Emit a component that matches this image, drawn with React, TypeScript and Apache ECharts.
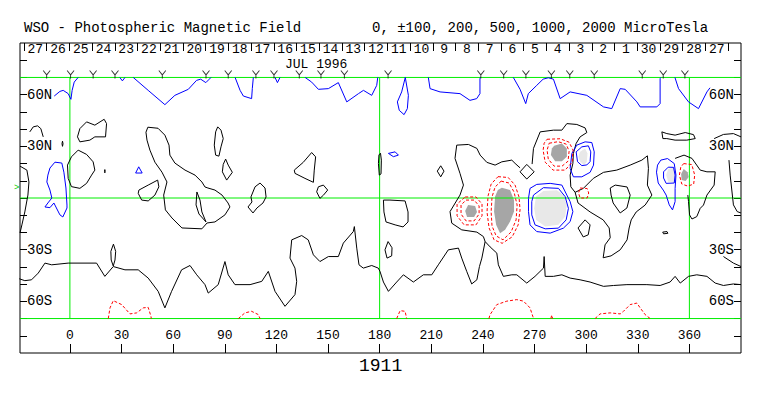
import React, { useEffect, useRef } from "react";
import * as echarts from "echarts";

const FONT = "'Liberation Mono', 'Courier New', monospace";

// ---------- axis data ----------
const lonTicks = [0, 30, 60, 90, 120, 150, 180, 210, 240, 270, 300, 330, 360];
const latTicks = [-80, -70, -60, -50, -40, -30, -20, -10, 0, 10, 20, 30, 40, 50, 60, 70, 80];
const latLabelValues = [-60, -30, 30, 60];
const latLabels = ["60S", "30S", "30N", "60N"];
const dayTickLons = [-26.7, -13.5, -0.3, 12.9, 26.1, 39.3, 52.5, 65.7, 78.9, 92.1, 105.3, 118.5, 131.7, 144.9, 158.1, 171.3, 184.5, 197.7, 210.9, 224.1, 237.3, 250.5, 263.7, 276.9, 290.1, 303.3, 316.5, 329.7, 342.9, 356.1, 369.3, 382.5];
const dayLabelLons = [-20.1, -6.9, 6.3, 19.5, 32.7, 45.9, 59.1, 72.3, 85.5, 98.7, 111.9, 125.1, 138.3, 151.5, 164.7, 177.9, 191.1, 204.3, 217.5, 230.7, 243.9, 257.1, 270.3, 283.5, 296.7, 309.9, 323.1, 336.3, 349.5, 362.7, 375.9];
const dayLabels = ["27", "26", "25", "24", "23", "22", "21", "20", "19", "18", "17", "16", "15", "14", "13", "12", "11", "10", "9", "8", "7", "6", "5", "4", "3", "2", "1", "30", "29", "28", "27"];
const obsLons = [-13.5, 0.4, 13.5, 26.2, 53.7, 79.1, 92, 108.1, 118.6, 133.3, 145.9, 159.5, 184.9, 238.8, 252.1, 265, 279.8, 290.5, 304.7, 332.6, 344.8, 357.4];
const obsRowLat = 71.7;
const gridLatLines = [70, 0, -70];
const gridLonLines = [0, 180, 360];

// ---------- negative (blue) contours ----------
const blueA = [[4.8, 70], [2.5, 67.3], [1.3, 62.5], [0.6, 57.3], [-1, 60.6], [-3.9, 62.5], [-5.8, 61.9], [-9.1, 59.2]];
const blueA2 = [[29, 70], [30.5, 68], [32, 70]];
const blueB = [[36.8, 70], [45.5, 62.5], [55.2, 54.2], [61, 59.6], [68.8, 63.1], [73.6, 68.3], [76, 69], [79, 67], [81, 69], [82, 70]];
const blueC = [[96, 70], [98.9, 62.5], [100.8, 59.2], [105.6, 57.7], [106, 63.5], [106.6, 70]];
const blueD = [[119.2, 70], [120.6, 67], [122.1, 70]];
const blueE = [[136.7, 70], [140.5, 67.3], [144.4, 63.1], [150.2, 63.5], [156, 67], [160.9, 55.8], [167.7, 60.6], [170.6, 62.5], [175.4, 59.6], [178.3, 65.4], [178.9, 70]];
const blueF = [[194.9, 70], [196.7, 59.6], [196.1, 51.9], [194.2, 48.4], [191.4, 50.9], [190.3, 55.8], [192.8, 61.6], [194.9, 70]];
const blueG = [[208.3, 70], [209.3, 63.5], [215.1, 61.6], [226.7, 60.6], [232.5, 56.7], [236.4, 57.7], [238.3, 60.6], [238.3, 69.3], [238.5, 70]];
const blueH = [[257.7, 70], [261.6, 63.1], [264.9, 54.8], [266.4, 60.6], [271.3, 65.4], [275, 69], [278, 69.8], [281, 69], [284.9, 57.7], [290.7, 61.6], [300.4, 59.6], [310.1, 52.9], [314.9, 51.9], [319.8, 63.5], [322.7, 63.1], [329.5, 55.8], [331.4, 52.9], [341.1, 52.9], [343, 54.8], [343, 69.3], [343.4, 70]];
const blueJ = [[351.6, 70], [353.7, 63.5], [359.5, 55.8], [365.3, 51.9], [370.2, 61.6], [372, 64]];
const blueLeft = [[-8.7, 20.8], [-4.7, 20.3], [-3.5, 15], [-2.3, 5.8], [-1.7, -4.1], [-1.7, -5.8], [-4.1, -11], [-5.8, -9.8], [-8.7, -4.1], [-9.3, -2.9], [-11.6, -5.6], [-14.5, -5.2], [-12.8, -2.9], [-10.5, 0], [-11.6, 4.6], [-13.4, 9.3], [-12.8, 13.3], [-11.6, 17.4], [-8.7, 20.8]];
const blueTri = [[40, 18.1], [42, 14.5], [38.2, 14.5], [40, 18.1]];
const blueEye = [[185.1, 25.9], [189, 26.8], [190.9, 24.9], [188, 24], [185.1, 25.9]];
const blueBigOuter = [[267.4, 5.6], [271.3, 7.9], [279.1, 8.5], [285.9, 7.5], [288.8, 1.7], [290.7, -2.1], [292.3, -7.9], [290.7, -13.7], [286.8, -17.5], [279.1, -20.4], [271.3, -19.5], [267.4, -15.6], [266.5, -7.9], [266.5, -0.2], [267.4, 5.6]];
const blueBigInner = [[269.4, 1.7], [275.2, 6], [283.9, 5.6], [287.8, 0.8], [289.7, -6], [288.4, -12.7], [283.9, -17.5], [276.2, -17.9], [270.3, -15.6], [268.4, -9.8], [268.4, -2.1], [269.4, 1.7]];
const blueURInner = [[294.2, 26.8], [297.5, 29.7], [301.3, 30.3], [302.7, 26.8], [302.3, 21.1], [300.4, 19.2], [297.5, 18.8], [295, 21.1], [294.2, 26.8]];
const blueUROuter = [[291.7, 25.9], [294.6, 30.7], [299.4, 32.6], [303.3, 32.2], [304.7, 26.8], [304.3, 19.1], [302.3, 14.9], [297.5, 12.3], [292.6, 12.3], [290.7, 17.2], [291.7, 25.9]];
const blueRInner = [[345, 15.2], [347.7, 17.9], [350.8, 17.8], [351.7, 13.3], [351.2, 8.7], [346.5, 8.5], [345, 11.6], [345, 15.2]];
const blueROuter = [[343.4, 22], [347.3, 22.9], [351.2, 20], [352.2, 13.3], [351.7, 5.6], [351.7, -2.1], [350.2, -6.9], [348.3, -4], [346.5, 1.7], [344.8, 4.6], [341.9, 8.7], [340.9, 15], [341.5, 19.1], [343.4, 22]];

// ---------- positive (red dashed) contours ----------
const redUpOuter = [[277.3, 34.1], [284.9, 34.4], [290.1, 32.4], [292.4, 27.8], [291.9, 20.8], [287.8, 16.2], [280.8, 16.2], [276.2, 20.8], [275, 27.8], [275.6, 31.8], [277.3, 34.1]];
const redUpInner = [[278.5, 31.8], [283.7, 32.7], [288.4, 31.3], [290.1, 27.2], [289.5, 21.4], [286, 18.5], [281.4, 18.5], [278, 22.6], [277.3, 27.8], [278.5, 31.8]];
const redTallOuter = [[248.8, 12.4], [254.7, 11.9], [258.7, 7.5], [261, 0.6], [261.6, -6.9], [260.5, -15.6], [257, -22.6], [251.2, -26.3], [246.5, -24.3], [243.6, -17.4], [242.4, -8.1], [243, 1.2], [244.8, 8.1], [248.8, 12.4]];
const redTallInner = [[250.6, 9.8], [255.2, 8.7], [258.1, 3.5], [259.9, -4.1], [259.3, -12.7], [256.4, -19.7], [251.7, -24.3], [247.7, -22], [245.3, -16.2], [244.8, -8.1], [245.3, 0.6], [247.1, 6.4], [250.6, 9.8]];
const redSmallOuter = [[229.7, 0.6], [236, 0.6], [239.5, -3.5], [239.5, -10.4], [236, -15.6], [229.1, -15.6], [225, -10.4], [225, -3.5], [229.7, 0.6]];
const redSmallInner = [[230.2, -1.2], [234.9, -1.2], [237.8, -4.6], [237.8, -9.3], [234.9, -13.3], [230.2, -13.3], [227.3, -9.3], [227.3, -4.1], [230.2, -1.2]];
const redSq = [[296.5, 5.8], [300.6, 5.5], [301.5, 2.9], [300.6, 0], [296.5, 0], [295.6, 2.9], [296.5, 5.8]];
const redRRing = [[356.7, 20], [361.4, 19.4], [363.1, 13.3], [362.5, 8.1], [359.1, 6.9], [355.6, 8.1], [354.2, 13.3], [355, 17.9], [356.7, 20]];
const redB1 = [[22.3, -70], [23.3, -63.8], [25.2, -59.6], [30.1, -61.9], [34.9, -67.3], [38.8, -66.7], [42.6, -63.8], [45.5, -63.5], [47.1, -68.7], [47.3, -70]];
const redB2 = [[97.9, -70], [101.7, -66.7], [105.6, -65.8], [109.5, -67.7], [110.5, -70]];
const redB3 = [[189.9, -70], [191.9, -65.4], [194.8, -65.8], [195.7, -70]];
const redB4 = [[243.5, -70], [244.2, -67.7], [248.1, -61.9], [253.9, -59.9], [259.7, -59], [263.6, -59.9], [267.4, -63.8], [269, -68.7], [269.5, -70]];
const redB5 = [[305.2, -70], [308.1, -67.3], [314, -66.7], [319.8, -67.3], [321.7, -65.8], [325.6, -61.9], [329.5, -61], [331.4, -63.8], [334.3, -67.7], [337.2, -70]];
const redB6 = [[279.5, -70], [280, -68], [280.5, -70]];

// ---------- strong field areas ----------
const grayUp = [[281.4, 30.3], [285.9, 31.7], [288.8, 28.8], [288.8, 23.9], [285.9, 21.4], [282, 21.4], [279.5, 24.9], [280.1, 28.8]];
const grayTall = [[251, 6], [255.8, 4.6], [258.1, -1.2], [258.1, -7.9], [255.8, -13.7], [252.9, -18.5], [250, -20.4], [247.7, -15.6], [246.5, -7.9], [247.1, 0.8], [248.7, 4.6]];
const graySmall = [[231.4, -4.1], [235.5, -4.6], [236.6, -8.1], [234.9, -11], [230.8, -11], [229.7, -7.5]];
const grayRight = [[356.7, 16.8], [359, 15], [359.6, 12.2], [357.8, 9.8], [355.5, 10.4], [355.2, 13.9]];
const lightBig = [[275.2, 4.1], [283, 4.5], [286.8, 1.7], [288.8, -4.1], [287.8, -10.8], [283.9, -15.6], [276.2, -16.6], [270.9, -12.7], [269.8, -6], [270.9, 0.8]];
const lightUR = [[296.5, 26.8], [299.4, 28.8], [300.8, 25.9], [300.4, 21.1], [298.8, 19.2], [296.5, 21.1], [295.5, 24]];
const lightRight = [[347.7, 16.8], [351.2, 17.7], [352.3, 13.3], [351.7, 9.3], [347.7, 9.4], [346.5, 13.3]];

// ---------- neutral line (black) ----------
const k1 = [[-23.3, 38.4], [-21.3, 41.3], [-18.8, 41.9], [-16.9, 40.3], [-15.5, 35.5]];
const tinyA = [[-4.3, 33], [-4, 31.5], [-4.3, 30], [-4.6, 31.5], [-4.3, 33]];
const tinyB = [[20.3, 16.5], [20.5, 15.5], [20.3, 14.6], [20.1, 15.5], [20.3, 16.5]];
const k2 = [[5.8, 40.3], [9.7, 44.2], [14.5, 42.3], [19.9, 45.7], [21.3, 43.2], [20.7, 35.5], [14.5, 35.5], [11.6, 33.6], [5.8, 32.6], [4.4, 35.5], [5.8, 40.3]];
const k3 = [[4.8, 27.8], [9.7, 25.3], [13.5, 21], [14.5, 16.2], [12.6, 13.3], [9.7, 8.5], [5.8, 5.6], [0.9, 6.6], [-1, 11.4], [-1.4, 19.1], [0.9, 23.9], [4.8, 27.8]];
const k4 = [[45.3, 41.1], [51.2, 40.5], [55.2, 36.5], [57.6, 30.7], [58.1, 24.9], [61, 20.3], [66.9, 16.2], [72.7, 13.3], [76.7, 9.3], [78.5, 6.4], [80.2, 5.8], [84.3, 4.6], [88.4, 1.7], [91.9, -2.9], [93, -5.2], [90.1, -9.8], [84.3, -13.9], [79.7, -14.5], [76.7, -17.9], [65.1, -17.4], [59.3, -11.6], [55.5, -6.9], [54.5, 1.7], [56.4, 9.3], [53.5, 15], [49.4, 20.8], [46.5, 27.8], [44.8, 33.6], [44.2, 38.2], [45.3, 41.1]];
const k4in = [[73.8, 3.5], [73.3, -4], [75, -9.3], [79.1, -13.9], [76.7, -8.1], [75.6, -1.2], [73.8, 3.5]];
const k5 = [[40.1, 4.6], [45.5, 7.5], [51, 10.4], [51.7, 6.5], [49.4, 1.7], [45.5, -1.7], [41.7, -1.2], [39.7, 2.7], [40.1, 4.6]];
const leftLine = [[-29, 18.5], [-25, 16.2], [-23.8, 9.3], [-24.4, 1.7], [-26.2, -8.1], [-27.9, -15.6], [-29, -20.3]];
const l1 = [[85.9, 41.3], [87.8, 39.4], [89.1, 34.5], [87.8, 29.7], [86.6, 24.3], [84.7, 24.9], [83.9, 30.7], [84.7, 38.4], [85.9, 41.3]];
const l2 = [[90.5, 22.6], [92, 19.1], [94.4, 14.9], [91.1, 10.4], [88.6, 15.2], [89.1, 19.5], [90.5, 22.6]];
const l3 = [[140.5, 26.4], [142.8, 23.9], [142, 16.2], [141.5, 9.1], [136.6, 11.4], [130.8, 14.3], [130.4, 16.2], [135.6, 20.7], [140.5, 26.4]];
const l4 = [[144.4, 6.5], [147.3, 7.5], [149.8, 4.6], [147.3, 1.6], [145.3, -0.2], [143.4, 3.6], [144.4, 6.5]];
const l5 = [[107.6, 6.5], [110.5, 8.7], [113.4, 5.8], [114, 0.6], [112.2, -2.9], [108.7, -5.8], [106.4, -8.7], [103.5, -5.2], [105.8, -2.3], [105.2, 0.6], [107.6, 6.5]];
const thin180 = [[180.5, 26], [181, 22], [180.8, 14], [179.8, 13.3], [179.3, 20], [179.6, 25], [180.5, 26]];
const m1 = [[215.5, 18.7], [217.4, 15.6], [215.5, 12.3], [213.5, 15.6], [215.5, 18.7]];
const loop185 = [[182.2, -1.2], [186, -1.2], [194.8, -1.7], [196.5, -8.1], [196.5, -13.9], [193.6, -16.8], [189, -15.6], [183.7, -13.9], [182.5, -8.1], [182.2, -1.2]];
const loop185s = [[184.9, -25.3], [187.2, -28.9], [187, -33.6], [184.3, -34.9], [183.1, -30.1], [184.9, -25.3]];
const ellipseS = [[25.3, -26.8], [26.6, -31], [26.2, -36], [25.2, -39.5], [24, -36], [23.8, -31], [25.3, -26.8]];
const south = [[-29.4, -46.9], [-26.2, -48], [-22.3, -47.5], [-18.4, -43.6], [-14.5, -37.8], [-10.6, -38.8], [-1, -37.8], [15.5, -37.8], [20.3, -45.5], [25.2, -39.8], [32, -41.7], [39.7, -41.7], [45.5, -46.5], [51.3, -54.2], [55.2, -63.8], [59.1, -54.2], [64.9, -41.7], [69.8, -39.2], [73.7, -44.6], [78.5, -50.3], [80.4, -55.2], [86.2, -50.3], [90.1, -36.9], [92, -44.6], [95.9, -50.3], [104.7, -50.3], [111.5, -48.4], [115.3, -42.6], [119.2, -54.2], [125, -62.9], [130.8, -56.1], [131.8, -48.4], [130.8, -40.7], [127.9, -34.9], [128.9, -24.3], [134.7, -21.8], [138.5, -24.3], [141.5, -33], [145.3, -36.9], [150.2, -34], [156, -34], [158.9, -26.2], [164.7, -19.5], [165.3, -16.6], [166.7, -29.1], [168, -38.8], [170.5, -40.7], [175.4, -39.2], [179.2, -40.7], [180.2, -42.6], [182.2, -48.8], [185.1, -54.2], [189.9, -48.8], [193.8, -44.6], [199.6, -48.8], [205.4, -44.6], [210.3, -44.6], [214.1, -38.8], [219.9, -30.1], [225.8, -29.1], [227.7, -34.9], [230.6, -42.6], [233.5, -49.9], [236.5, -47.5], [238, -39.8], [239.4, -34.9], [241.3, -25.3], [240.3, -22.4], [236.5, -19.8], [227.7, -18.5], [221.9, -14.6], [220.9, -7.9], [226.7, 1.7], [228.7, 7.5], [226.7, 14.3], [223.8, 23], [224.8, 30.7], [231.6, 31.1], [236.5, 28.8], [238.4, 24.9], [242.3, 20.7], [247.1, 19.1], [251, 21], [256.8, 22], [258.7, 20.1], [261.6, 17.5]];
const south2 = [[241.3, -25.3], [244.2, -28.4], [248.1, -32], [249, -38.8], [251.9, -45.5], [256.8, -44.6], [259.7, -44.6], [265.5, -49.4], [270.3, -45.5], [275.2, -40.7], [275.6, -34], [276.2, -45.5], [281, -45.5], [285.9, -44.6], [290.7, -46.5], [296.5, -47.5], [302.3, -48.8], [310.1, -51.3], [315.9, -50.8], [323.7, -50.3], [335.3, -50.3], [343, -50.8], [348.8, -48.8], [351.7, -45.5], [354.7, -49.4], [359.5, -45.5], [364.3, -44.6], [370.2, -45.5], [375, -49.4], [379.8, -50.8], [385.6, -49.9], [390, -50.3]];
const saddle = [[265.5, 19.5], [269.8, 15.2], [265.5, 11], [261.6, 15.2], [265.5, 19.5]];
const eastLoop = [[268.6, 19.7], [269.4, 28.8], [273.3, 38.4], [281, 39.4], [285.9, 39.4], [288.8, 43.2], [294.6, 42.7], [299.4, 40.7], [300.4, 38], [296.5, 35.5], [294.2, 31.7], [292.6, 25.9], [292.3, 20.1], [290.7, 13.3], [291.1, 6.5], [293.6, 3.3], [298.4, 5.6], [304.2, 11.4], [310.1, 14.9], [317.8, 16.2], [325.6, 19.1], [332.4, 22], [335.6, 24.5], [336.2, 17.2], [335.6, 7.5], [338.2, 1.7], [334.3, -4.1], [329.1, -8.1], [326.2, -12.7], [325, -17.4], [323.8, -24.3], [319.8, -30.1], [314.5, -33.6], [309.9, -34.7], [311, -27.2], [314, -23.1], [313.4, -17.4], [309.9, -12.7], [302.3, -8.1], [295.3, -2.9], [293.6, 3.3]];
const loopU = [[314, 5.8], [316.9, 7.5], [323.8, 6.4], [325.6, 1.7], [323.7, -5.8], [319.8, -8.7], [315.7, -2.9], [314.5, 1.7], [314, 5.8]];
const loop300 = [[299.4, -12.7], [302.3, -15.6], [301.2, -21.4], [298.3, -22.6], [295.3, -17.4], [299.4, -12.7]];
const tinyR = [[344.5, -19.8], [347, -19.5], [347.5, -20.5], [345, -20.8], [344.5, -19.8]];
const eastR = [[351.7, 23], [356.9, 24.9], [361.5, 23], [366.3, 16.2], [370.2, 15.2], [375, 15.2], [374.4, 7.5], [370.2, 1.7], [368.2, -4.1], [366.3, -6], [364.3, -10.8], [361.5, -12.2], [360.1, -9.8], [359.5, -2.1], [359.1, 1.7]];
const fish = [[344, 38.4], [346.9, 37.4], [351.7, 36.5], [357.6, 38], [362.4, 36.8], [363.4, 34.5], [358.5, 33.6], [351.7, 33.6], [346.9, 34.5], [344.6, 34.5], [344, 38.4]];
const arcTR = [[374.4, 34.5], [379.8, 36.9], [385.6, 37.4], [390, 35.5]];
const rightLine = [[383, 22], [383.7, 13.3], [385.6, -4], [387.8, -7.9], [390, -8.7]];
const arcBR = [[379.8, -34], [385.6, -37.8], [390, -39.8]];

const blackLines = [k1, tinyA, tinyB, k2, k3, k4, k4in, k5, leftLine, l1, l2, l3, l4, l5, thin180, m1, loop185, loop185s, ellipseS, south, south2, saddle, eastLoop, loopU, loop300, tinyR, eastR, fish, arcTR, rightLine, arcBR];
const blueLines = [blueA, blueA2, blueB, blueC, blueD, blueE, blueF, blueG, blueH, blueJ, blueLeft, blueTri, blueEye, blueBigOuter, blueBigInner, blueURInner, blueUROuter, blueRInner, blueROuter];
const redLines = [redUpOuter, redUpInner, redTallOuter, redTallInner, redSmallOuter, redSmallInner, redSq, redRRing, redB1, redB2, redB3, redB4, redB5, redB6];
const darkAreas = [grayUp, grayTall, graySmall, grayRight];
const lightAreas = [lightBig, lightUR, lightRight];

function lineSeries(data: number[][], color: string, dashed: boolean, z = 3) {
  return {
    type: "line",
    data,
    symbol: "none",
    showSymbol: false,
    silent: true,
    z,
    lineStyle: { color, width: 1, type: dashed ? [3, 2] : "solid" },
  };
}

function areaSeries(points: number[][], color: string) {
  return {
    type: "custom",
    coordinateSystem: "cartesian2d",
    data: points,
    silent: true,
    z: 1,
    renderItem: (params: any, api: any) => {
      if (params.dataIndex !== 0) return null;
      return {
        type: "polygon",
        shape: { points: points.map((p) => api.coord(p)) },
        style: { fill: color, stroke: null },
      };
    },
  };
}

function buildOption() {
  const series: any[] = [];
  darkAreas.forEach((a) => series.push(areaSeries(a, "#a6a6a6")));
  lightAreas.forEach((a) => series.push(areaSeries(a, "#e8e8e8")));
  gridLatLines.forEach((lat) => series.push(lineSeries([[-29, lat], [390, lat]], "#00ee00", false, 2)));
  gridLonLines.forEach((lon) => series.push(lineSeries([[lon, -70], [lon, 70]], "#00ee00", false, 2)));
  blackLines.forEach((d) => series.push(lineSeries(d, "#000000", false)));
  blueLines.forEach((d) => series.push(lineSeries(d, "#0000ff", false)));
  redLines.forEach((d) => series.push(lineSeries(d, "#ff0000", true)));
  series.push({
    type: "scatter",
    data: obsLons.map((l) => [l, obsRowLat]),
    symbol: "path://M0,0L4,5L8,0M4,5L4,9",
    symbolSize: [7, 8],
    silent: true,
    z: 4,
    itemStyle: { color: "rgba(0,0,0,0)", borderColor: "#000", borderWidth: 1 },
  });

  const dayFmt = (v: number) => {
    let best = 0;
    for (let i = 1; i < dayLabelLons.length; i++) {
      if (Math.abs(dayLabelLons[i] - v) < Math.abs(dayLabelLons[best] - v)) best = i;
    }
    return dayLabels[best];
  };
  const latFmt = (v: number) => {
    const i = latLabelValues.indexOf(Math.round(v));
    return i >= 0 ? latLabels[i] : "";
  };

  const yCommon = {
    type: "value",
    min: -90,
    max: 90,
    splitLine: { show: false },
    axisLine: { show: false, onZero: false },
    axisTick: { show: true, inside: true, length: 7, customValues: latTicks, lineStyle: { color: "#000" } },
    axisLabel: { show: true, inside: true, margin: 7, customValues: latLabelValues, formatter: latFmt, color: "#000", fontFamily: FONT, fontSize: 14 },
  };

  return {
    animation: false,
    backgroundColor: "#ffffff",
    grid: { left: 20, top: 43, width: 721, height: 310, show: true, borderColor: "#000", borderWidth: 1, backgroundColor: "transparent" },
    xAxis: [
      {
        type: "value", position: "bottom", min: -29, max: 390,
        splitLine: { show: false }, axisLine: { show: false, onZero: false },
        axisTick: { show: true, inside: true, length: 9, customValues: lonTicks, lineStyle: { color: "#000" } },
        axisLabel: { show: true, inside: true, margin: 11, customValues: lonTicks, color: "#000", fontFamily: FONT, fontSize: 13, lineHeight: 13 },
      },
      {
        type: "value", position: "top", min: -29, max: 390,
        splitLine: { show: false }, axisLine: { show: false, onZero: false },
        axisTick: { show: true, inside: true, length: 8, customValues: dayTickLons, lineStyle: { color: "#000" } },
        axisLabel: { show: true, inside: true, margin: 1, customValues: dayLabelLons, formatter: dayFmt, color: "#000", fontFamily: FONT, fontSize: 13, lineHeight: 11 },
      },
    ],
    yAxis: [
      { ...yCommon, position: "left" },
      { ...yCommon, position: "right" },
    ],
    graphic: [
      { type: "text", left: 24, top: 21, style: { text: "WSO - Photospheric Magnetic Field", fill: "#000", font: `14px ${FONT}` } },
      { type: "text", left: 372, top: 21, style: { text: "0, ±100, 200, 500, 1000, 2000 MicroTesla", fill: "#000", font: `14px ${FONT}` } },
      { type: "text", left: 285, top: 58, style: { text: "JUL 1996", fill: "#000", font: `13px ${FONT}`, lineHeight: 10 } },
      { type: "text", left: 359, top: 357, style: { text: "1911", fill: "#000", font: `18px ${FONT}` } },
      { type: "text", left: 14, top: 183, style: { text: ">", fill: "#00cc00", font: `9px ${FONT}` } },
    ],
    series,
  };
}

export default function App() {
  const ref = useRef<HTMLDivElement>(null);
  useEffect(() => {
    const chart = echarts.init(ref.current as HTMLDivElement, null, { renderer: "svg" });
    chart.setOption(buildOption() as any);
    return () => chart.dispose();
  }, []);
  return (
    <div
      ref={ref}
      style={{ position: "absolute", left: 0, top: 0, width: 763, height: 396, background: "#fff" }}
    />
  );
}
